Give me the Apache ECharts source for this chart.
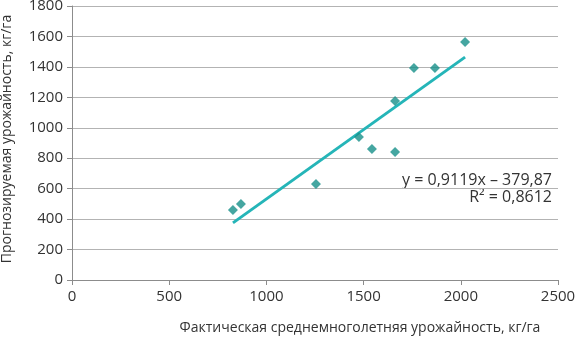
<!DOCTYPE html>
<html><head><meta charset="utf-8">
<script src="https://cdn.jsdelivr.net/npm/echarts@6/dist/echarts.min.js"></script>
<style>html,body{margin:0;padding:0;background:#fff}#c{width:578px;height:338px}</style>
</head><body><div id="c"></div>
<script>
const actual = [828, 869, 1255, 1476, 1543, 1662, 1662, 1759, 1867, 2022];
const predicted = [460, 499, 631, 940, 861, 841, 1176, 1393, 1393, 1564];
const slope = 0.9119, intercept = -379.87;
const eqText = 'y = 0,9119x – 379,87';
const r2Text = 'R² = 0,8612';
const xName = 'Фактическая среднемноголетняя урожайность, кг/га';
const yName = 'Прогнозируемая урожайность, кг/га';

const xMin = Math.min(...actual), xMax = Math.max(...actual);
const trend = [[xMin, slope*xMin+intercept],[xMax, slope*xMax+intercept]];
const FONT = '"Open Sans", sans-serif';
const chart = echarts.init(document.getElementById('c'));
chart.setOption({
  animation:false,
  grid:{left:72,right:20,top:6,bottom:58,outerBoundsMode:'none',containLabel:false},
  xAxis:{type:'value',min:0,max:2500,interval:500,
    name:xName,nameLocation:'middle',nameGap:41,
    nameTextStyle:{color:'#333',fontSize:14,fontFamily:FONT,padding:[0,0,0,90]},
    axisLine:{show:true,lineStyle:{color:'#8c8c8c'}},
    axisTick:{show:true,length:5,lineStyle:{color:'#8c8c8c'}},
    axisLabel:{color:'#333',fontSize:15,fontFamily:FONT,margin:9,formatter:v=>String(v)},
    splitLine:{show:false}},
  yAxis:{type:'value',min:0,max:1800,interval:200,
    name:yName,nameLocation:'middle',nameGap:58,
    nameTextStyle:{color:'#333',fontSize:14,fontFamily:FONT,padding:[0,0,0,8]},
    axisLine:{show:true,lineStyle:{color:'#8c8c8c'}},
    axisTick:{show:true,length:5,lineStyle:{color:'#8c8c8c'}},
    axisLabel:{color:'#333',fontSize:15,fontFamily:FONT,margin:9,formatter:v=>String(v)},
    splitLine:{show:true,lineStyle:{color:'#b3b3b3',width:1}}},
  series:[
    {type:'line',data:trend,symbol:'none',lineStyle:{color:'#25b5b8',width:3},z:2},
    {type:'scatter',data:actual.map((x,i)=>[x,predicted[i]]),symbol:'diamond',symbolSize:10,
     itemStyle:{color:'#17908a'},z:3}
  ],
  graphic:[
    {type:'text',right:26,top:172,style:{text:eqText,fill:'#333',font:'16px '+FONT,textAlign:'right'}},
    {type:'text',right:26,top:189,style:{text:r2Text,fill:'#333',font:'16px '+FONT,textAlign:'right'}}
  ]
});
</script></body></html>
